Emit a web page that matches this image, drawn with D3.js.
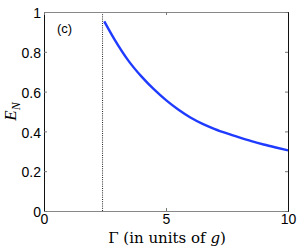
<!DOCTYPE html>
<html>
<head>
<meta charset="utf-8">
<script src="https://cdn.jsdelivr.net/npm/d3@7"></script>
<style>
  body { margin: 0; background: #fff; }
  svg { display: block; }
  .tick text { font-family: "Liberation Sans", Arial, sans-serif; font-size: 14px; fill: #000; }
</style>
</head>
<body>
<svg id="chart" width="300" height="252"></svg>
<script>
"use strict";

// data
var gammaValues = [2.47, 2.9, 3.45, 4.0, 4.5, 5.0, 5.5, 6.0, 6.5, 7.0, 7.5, 8.0, 8.5, 9.0, 9.5, 10.0];
var enValues = [0.953, 0.86, 0.757, 0.675, 0.612, 0.557, 0.51, 0.47, 0.438, 0.412, 0.39, 0.37, 0.351, 0.334, 0.319, 0.305];
var thresholdGamma = 2.4;
var xTicks = [0, 5, 10];
var yTicks = [0, 0.2, 0.4, 0.6, 0.8, 1];
var panelLabel = "(c)";

var svg = d3.select("#chart");
var margin = {left: 44, top: 12, right: 12, bottom: 41};
var width = 300 - margin.left - margin.right,
    height = 252 - margin.top - margin.bottom;

var x = d3.scaleLinear().domain([0, 10]).range([0, width]);
var y = d3.scaleLinear().domain([0, 1]).range([height, 0]);

var g = svg.append("g").attr("transform", "translate(" + margin.left + "," + margin.top + ")");

// threshold dotted line
g.append("line")
  .attr("x1", x(thresholdGamma)).attr("x2", x(thresholdGamma))
  .attr("y1", y(0)).attr("y2", y(1))
  .attr("stroke", "#222")
  .attr("stroke-width", 1)
  .attr("stroke-dasharray", "1,1.2");

// curve
var points = gammaValues.map(function(v, i){ return [v, enValues[i]]; });
var line = d3.line()
  .x(function(d){ return x(d[0]); })
  .y(function(d){ return y(d[1]); })
  .curve(d3.curveMonotoneX);

g.append("path")
  .datum(points)
  .attr("d", line)
  .attr("fill", "none")
  .attr("stroke", "#1f3bff")
  .attr("stroke-width", 2.4);

// axes
var xAxis = g.append("g")
  .attr("transform", "translate(0," + height + ")")
  .call(d3.axisBottom(x).tickValues(xTicks).tickSize(-3).tickPadding(5).tickFormat(d3.format("d")));

var yAxis = g.append("g")
  .call(d3.axisLeft(y).tickValues(yTicks).tickSize(-3).tickPadding(3).tickFormat(function(d){ return d === 0 || d === 1 ? d3.format("d")(d) : d3.format(".1f")(d); }));

var xTop = g.append("g")
  .call(d3.axisTop(x).tickValues(xTicks).tickSize(-3).tickFormat(""));

var yRight = g.append("g")
  .attr("transform", "translate(" + width + ",0)")
  .call(d3.axisRight(y).tickValues(yTicks).tickSize(-3).tickFormat(""));

[xAxis, yAxis, xTop, yRight].forEach(function(a){
  a.selectAll(".tick line").attr("stroke", "#777");
});
xAxis.select(".domain").attr("stroke", "#888");
xTop.select(".domain").attr("stroke", "#888");
yAxis.select(".domain").attr("stroke", "#111");
yRight.select(".domain").attr("stroke", "#111");

yAxis.selectAll(".tick text").attr("dy", "0.4em");
xAxis.selectAll(".tick text").attr("dy", "0.6em");

// panel label
g.append("text")
  .attr("x", 13).attr("y", 21)
  .attr("font-family", "Liberation Sans, Arial, sans-serif")
  .attr("font-size", 13)
  .text(panelLabel);

// x label
var xl = svg.append("text")
  .attr("x", margin.left + width / 2 + 1)
  .attr("y", 243)
  .attr("text-anchor", "middle")
  .attr("font-family", "DejaVu Serif, Liberation Serif, serif")
  .attr("font-size", 15);
xl.append("tspan").text("Γ (in units of ");
xl.append("tspan").attr("font-style", "italic").text("g");
xl.append("tspan").text(")");

// y label
var yl = svg.append("text")
  .attr("transform", "translate(16," + (margin.top + height / 2) + ") rotate(-90)")
  .attr("text-anchor", "middle")
  .attr("font-family", "Liberation Serif, DejaVu Serif, serif")
  .attr("font-style", "italic")
  .attr("font-size", 17);
yl.append("tspan").text("E");
yl.append("tspan").attr("font-size", 12).attr("dy", 4).text("N");
</script>
</body>
</html>
